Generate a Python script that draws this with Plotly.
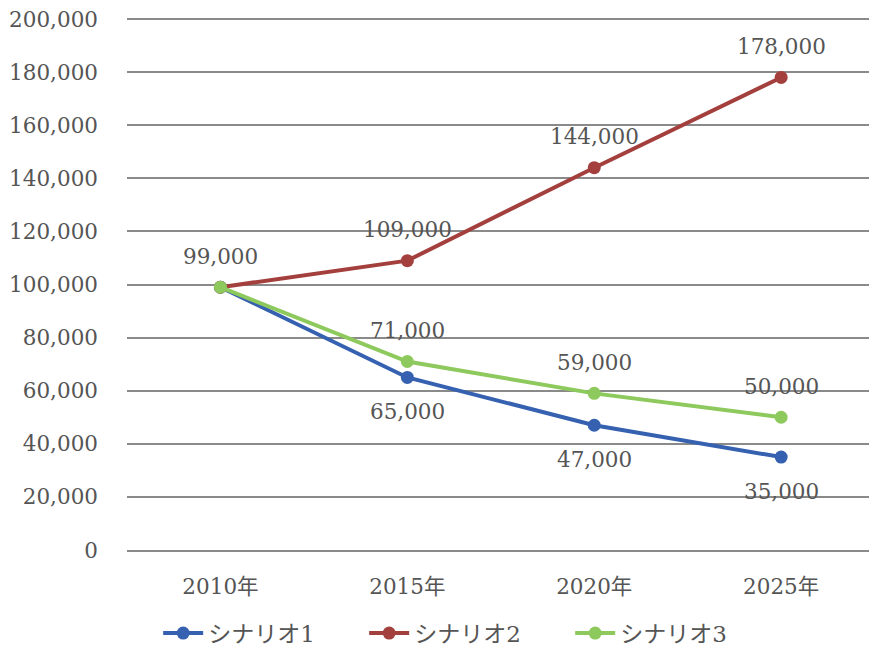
import plotly.graph_objects as go

# Projected values by scenario
years = ["2010年", "2015年", "2020年", "2025年"]
scenario1 = [99000, 65000, 47000, 35000]
scenario2 = [99000, 109000, 144000, 178000]
scenario3 = [99000, 71000, 59000, 50000]
series_names = ["シナリオ1", "シナリオ2", "シナリオ3"]
y_ticks = list(range(0, 200001, 20000))

colors = ["#3561B0", "#A3403D", "#8DC95C"]
FONT = "DejaVu Serif, Noto Sans CJK JP, serif"
TEXT = "#555555"
GRID = "#8a8a8a"
FS = 21.5

fig = go.Figure()
for name, vals, col in zip(series_names, [scenario1, scenario2, scenario3], colors):
    fig.add_trace(go.Scatter(
        x=years, y=vals, name=name, mode="lines+markers",
        line=dict(color=col, width=4),
        marker=dict(color=col, size=13),
    ))

# value labels: (series, shift, skip first point)
label_specs = [
    (scenario2, 31, False),
    (scenario1, -34, True),
    (scenario3, 31, True),
]
annotations = []
for vals, shift, skip_first in label_specs:
    for i, (yr, v) in enumerate(zip(years, vals)):
        if skip_first and i == 0:
            continue
        annotations.append(dict(
            x=yr, y=v, xref="x", yref="y", text=f"{v:,}",
            showarrow=False, yshift=shift,
            font=dict(family=FONT, size=FS, color=TEXT),
        ))

fig.update_layout(
    width=869, height=652,
    margin=dict(l=127, r=0, t=18, b=102, autoexpand=False),
    paper_bgcolor="white", plot_bgcolor="white",
    font=dict(family=FONT, size=FS, color=TEXT),
    showlegend=True,
    legend=dict(
        orientation="h", x=0.042, xanchor="left",
        yref="container", y=0.029, yanchor="middle",
        font=dict(family=FONT, size=23, color=TEXT),
        itemwidth=40, entrywidth=151, entrywidthmode="pixels",
        tracegroupgap=0,
    ),
    annotations=annotations,
    xaxis=dict(
        type="category", range=[-0.5, 3.47],
        showgrid=False, showline=True, linecolor=GRID, linewidth=2,
        ticks="", ticklabelstandoff=16,
        tickfont=dict(family=FONT, size=FS, color=TEXT),
        fixedrange=True,
    ),
    yaxis=dict(
        range=[0, 200400], tickvals=y_ticks, tickformat=",",
        showgrid=True, gridcolor=GRID, gridwidth=2,
        zeroline=False, showline=False, ticks="",
        ticklabelstandoff=28,
        tickfont=dict(family=FONT, size=FS, color=TEXT),
    ),
)

fig.write_html("out.html")
